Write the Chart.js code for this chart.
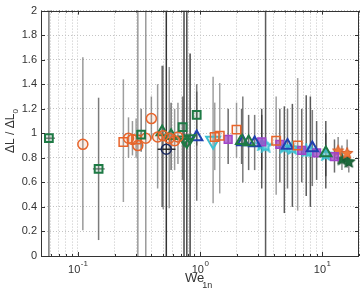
<!DOCTYPE html>
<html>
<head>
<meta charset="utf-8">
<script src="https://cdn.jsdelivr.net/npm/chart.js@4.4.0/dist/chart.umd.min.js"></script>
<style>
  html, body { margin: 0; padding: 0; background: #fff; }
  #wrap { width: 360px; height: 289px; }
</style>
</head>
<body>
<div id="wrap"><canvas id="chart"></canvas></div>
<script>
// --- axis data ---
const xGridValues = [0.05, 0.06, 0.07, 0.08, 0.09, 0.1, 0.2, 0.3, 0.4, 0.5, 0.6, 0.7, 0.8, 0.9,
                     1, 2, 3, 4, 5, 6, 7, 8, 9, 10, 20];
const xLabelValues = [0.1, 1, 10];
const xLabelExp = ['-1', '0', '1'];

// --- series (x = We_1n, y = dL/dL0, lo/hi = error bar ends) ---
const greenSqX  = [0.058, 0.148, 0.33, 0.72, 0.94];
const greenSqY  = [0.96, 0.71, 0.99, 1.05, 1.15];
const greenSqLo = [0, 0.13, 0.85, 0.62, 0.9];
const greenSqHi = [2, 1.29, 1.2, 1.3, 1.4];
const greenSqXLo = [0.053, 0.133, null, null, null];
const greenSqXHi = [0.065, 0.166, null, null, null];

const orangeCircX  = [0.11, 0.26, 0.28, 0.31, 0.36, 0.40, 0.45, 0.50, 0.56, 0.62, 0.66];
const orangeCircY  = [0.91, 0.96, 0.95, 0.90, 0.96, 1.12, 0.97, 0.98, 0.96, 0.94, 0.97];
const orangeCircLo = [0.21, 0.8, 0.82, 0, 0, 0.95, 0.55, 0.38, 0.39, 0.7, 0.75];
const orangeCircHi = [1.62, 1.13, 1.1, 2, 2, 1.3, 1.4, 1.55, 1.54, 1.2, 1.25];

const orangeSqX  = [0.236, 0.30, 1.32, 1.45, 1.99, 4.2, 6.3];
const orangeSqY  = [0.93, 0.95, 0.97, 0.98, 1.03, 0.94, 0.90];
const orangeSqLo = [0.44, 0.8, 0.7, 0.51, 0.8, 0.5, 0.37];
const orangeSqHi = [1.44, 1.12, 1.25, 1.41, 1.25, 1.3, 1.45];

const navyCircX  = [0.53];
const navyCircY  = [0.87];
const navyCircLo = [0];
const navyCircHi = [2];
const navyCircXLo = [0.45];
const navyCircXHi = [0.63];

const greenTriX  = [0.49, 0.58, 2.19, 2.5, 10.7];
const greenTriY  = [1.01, 0.98, 0.94, 0.93, 0.84];
const greenTriLo = [0.4, 0.7, 0.75, 0.7, 0.65];
const greenTriHi = [1.55, 1.25, 1.2, 1.15, 1.0];

const greenDownX  = [0.74, 0.78, 0.83];
const greenDownY  = [0.95, 0.93, 0.96];
const greenDownLo = [0, 0, 0];
const greenDownHi = [2, 2, 1.65];

const blueTriX  = [0.94, 2.24, 2.8, 5.2, 8.3];
const blueTriY  = [0.97, 0.93, 0.92, 0.90, 0.88];
const blueTriLo = [0.45, 0.6, 0.7, 0.55, 0.57];
const blueTriHi = [1.34, 1.3, 1.15, 1.2, 1.19];

const cyanDownX  = [1.28];
const cyanDownY  = [0.94];
const cyanDownLo = [0.43];
const cyanDownHi = [1.46];

const magentaSqX  = [1.7, 3.2, 4.5, 6.8, 9.0, 12.6];
const magentaSqY  = [0.95, 0.93, 0.91, 0.86, 0.84, 0.81];
const magentaSqLo = [0.75, 0.7, 0.6, 0.6, 0.62, 0.68];
const magentaSqHi = [1.2, 1.15, 1.2, 1.2, 1.1, 0.95];

const cyanStarX  = [3.2, 3.44, 4.9, 5.7, 7.4, 8.0, 10.7];
const cyanStarY  = [0.91, 0.90, 0.89, 0.88, 0.86, 0.86, 0.83];
const cyanStarLo = [0.55, 0, 0.35, 0.4, 0.49, 0.4, 0.55];
const cyanStarHi = [1.2, 2, 1.22, 1.24, 1.31, 1.3, 1.1];

const orangeStarX  = [13.5, 16.0];
const orangeStarY  = [0.86, 0.84];
const orangeStarLo = [0.75, 0.72];
const orangeStarHi = [0.97, 0.95];

const greenStarX  = [14.5, 16.5];
const greenStarY  = [0.79, 0.77];
const greenStarLo = [0.7, 0.68];
const greenStarHi = [0.9, 0.86];

// --- helpers ---
function starImg(size, fill, stroke, lw) {
    const c = document.createElement('canvas');
    c.width = c.height = size;
    const g = c.getContext('2d');
    const cx = size / 2, cy = size / 2 + 0.5, r = size / 2 - 1, r2 = r * 0.45;
    g.beginPath();
    for (let k = 0; k < 10; k++) {
        const a = -Math.PI / 2 + k * Math.PI / 5;
        const rr = k % 2 ? r2 : r;
        g.lineTo(cx + rr * Math.cos(a), cy + rr * Math.sin(a));
    }
    g.closePath();
    g.fillStyle = fill;
    g.fill();
    g.strokeStyle = stroke;
    g.lineWidth = lw;
    g.stroke();
    return c;
}

function series(label, xs, ys, lo, hi, style) {
    return Object.assign({
        label,
        data: xs.map((v, i) => ({ x: v, y: ys[i] })),
        lo, hi,
        borderWidth: 1.5,
        errColor: 'rgba(70,70,70,0.75)'
    }, style);
}

const ORANGE = '#e8642a', GREEN = '#1e7a45', BLUE = '#2040b0', NAVY = '#1c2a60',
      MAGENTA = '#a045c8', CYAN = '#3cc0d2';

const datasets = [
    series('green squares', greenSqX, greenSqY, greenSqLo, greenSqHi, {
        xLo: greenSqXLo, xHi: greenSqXHi, pointStyle: 'rect', pointRadius: 5.5,
        borderColor: GREEN, backgroundColor: 'rgba(30,122,69,0.15)', borderWidth: 2,
        errColor: 'rgba(90,90,90,0.8)'
    }),
    series('orange circles', orangeCircX, orangeCircY, orangeCircLo, orangeCircHi, {
        pointStyle: 'circle', pointRadius: 5, borderColor: ORANGE,
        backgroundColor: 'rgba(232,106,44,0.12)', errColor: 'rgba(110,110,110,0.7)'
    }),
    series('orange squares', orangeSqX, orangeSqY, orangeSqLo, orangeSqHi, {
        pointStyle: 'rect', pointRadius: 6, borderColor: ORANGE,
        backgroundColor: 'rgba(232,106,44,0.08)', errColor: 'rgba(120,120,120,0.7)'
    }),
    series('navy circles', navyCircX, navyCircY, navyCircLo, navyCircHi, {
        xLo: navyCircXLo, xHi: navyCircXHi, pointStyle: 'circle', pointRadius: 5,
        borderColor: NAVY, backgroundColor: 'rgba(0,0,0,0)', errColor: 'rgba(30,30,30,0.9)'
    }),
    series('green triangles', greenTriX, greenTriY, greenTriLo, greenTriHi, {
        pointStyle: 'triangle', pointRadius: 6.5, borderColor: GREEN, borderWidth: 2,
        backgroundColor: 'rgba(30,122,69,0.1)', errColor: 'rgba(60,60,60,0.75)'
    }),
    series('green down triangles', greenDownX, greenDownY, greenDownLo, greenDownHi, {
        pointStyle: 'triangle', rotation: 180, pointRadius: 6, borderColor: GREEN, borderWidth: 2,
        backgroundColor: 'rgba(30,122,69,0.1)', errColor: 'rgba(40,40,40,0.85)'
    }),
    series('blue triangles', blueTriX, blueTriY, blueTriLo, blueTriHi, {
        pointStyle: 'triangle', pointRadius: 6.5, borderColor: BLUE, borderWidth: 2,
        backgroundColor: 'rgba(32,64,176,0.08)', errColor: 'rgba(80,80,80,0.75)'
    }),
    series('cyan down triangle', cyanDownX, cyanDownY, cyanDownLo, cyanDownHi, {
        pointStyle: 'triangle', rotation: 180, pointRadius: 8, borderColor: CYAN, borderWidth: 2,
        backgroundColor: 'rgba(60,192,210,0.08)', errColor: 'rgba(120,120,120,0.7)'
    }),
    series('magenta squares', magentaSqX, magentaSqY, magentaSqLo, magentaSqHi, {
        pointStyle: 'rect', pointRadius: 5.5, borderColor: MAGENTA,
        backgroundColor: 'rgba(160,69,200,0.75)', errColor: 'rgba(70,70,70,0.8)'
    }),
    series('cyan stars', cyanStarX, cyanStarY, cyanStarLo, cyanStarHi, {
        pointStyle: starImg(14, 'rgba(160,230,240,0.7)', CYAN, 2), errColor: 'rgba(50,50,50,0.8)'
    }),
    series('orange stars', orangeStarX, orangeStarY, orangeStarLo, orangeStarHi, {
        pointStyle: starImg(14, '#f07a3a', '#d8602a', 1), errColor: 'rgba(90,90,90,0.7)'
    }),
    series('green stars', greenStarX, greenStarY, greenStarLo, greenStarHi, {
        pointStyle: starImg(15, '#1d6b3c', '#155530', 1), errColor: 'rgba(90,90,90,0.7)'
    })
];

// --- plugins ---
const errorBars = {
    id: 'errorBars',
    beforeDatasetsDraw(chart) {
        const { ctx, scales: { x, y } } = chart;
        ctx.save();
        chart.data.datasets.forEach(ds => {
            ctx.strokeStyle = ds.errColor;
            ctx.lineWidth = 1.5;
            ds.data.forEach((p, i) => {
                const px = x.getPixelForValue(p.x);
                ctx.beginPath();
                ctx.moveTo(px, y.getPixelForValue(ds.lo[i]));
                ctx.lineTo(px, y.getPixelForValue(ds.hi[i]));
                ctx.stroke();
                if (ds.xLo && ds.xLo[i] != null) {
                    const py = y.getPixelForValue(p.y);
                    ctx.beginPath();
                    ctx.moveTo(x.getPixelForValue(ds.xLo[i]), py);
                    ctx.lineTo(x.getPixelForValue(ds.xHi[i]), py);
                    ctx.stroke();
                }
            });
        });
        ctx.restore();
    }
};

const frameAndLabels = {
    id: 'frameAndLabels',
    afterDraw(chart) {
        const { ctx, chartArea: a, scales: { x, y } } = chart;
        ctx.save();
        // inward ticks
        ctx.strokeStyle = '#333';
        ctx.lineWidth = 1;
        ctx.beginPath();
        xGridValues.forEach(v => {
            const px = Math.round(x.getPixelForValue(v)) + 0.5;
            const len = xLabelValues.includes(v) ? 4 : 2;
            ctx.moveTo(px, a.bottom); ctx.lineTo(px, a.bottom - len);
            ctx.moveTo(px, a.top); ctx.lineTo(px, a.top + len);
        });
        y.ticks.forEach(t => {
            const py = Math.round(y.getPixelForValue(t.value)) + 0.5;
            ctx.moveTo(a.left, py); ctx.lineTo(a.left + 4, py);
            ctx.moveTo(a.right, py); ctx.lineTo(a.right - 4, py);
        });
        ctx.stroke();
        // frame
        ctx.strokeRect(Math.round(a.left) + 0.5, Math.round(a.top) + 0.5,
                       Math.round(a.right - a.left) - 1, Math.round(a.bottom - a.top));

        // x tick labels with exponents
        ctx.fillStyle = '#333';
        ctx.textBaseline = 'alphabetic';
        xLabelValues.forEach((v, i) => {
            const px = x.getPixelForValue(v);
            ctx.font = '11px "Liberation Sans", Arial, sans-serif';
            const wb = ctx.measureText('10').width;
            ctx.font = '8px "Liberation Sans", Arial, sans-serif';
            const we = ctx.measureText(xLabelExp[i]).width;
            const left = px - (wb + we) / 2;
            ctx.font = '11px "Liberation Sans", Arial, sans-serif';
            ctx.textAlign = 'left';
            ctx.fillText('10', left, 273);
            ctx.font = '8px "Liberation Sans", Arial, sans-serif';
            ctx.fillText(xLabelExp[i], left + wb + 0.5, 266);
        });

        // x title
        ctx.font = '13px "Liberation Sans", Arial, sans-serif';
        ctx.textAlign = 'left';
        ctx.fillText('We', 185, 282);
        const wWe = ctx.measureText('We').width;
        ctx.font = '9px "Liberation Sans", Arial, sans-serif';
        ctx.fillText('1n', 185 + wWe - 2, 288);

        // y title
        ctx.translate(14, 131);
        ctx.rotate(-Math.PI / 2);
        ctx.font = '12px "Liberation Sans", Arial, sans-serif';
        const main = '\u0394L / \u0394L';
        const wm = ctx.measureText(main).width;
        ctx.font = '8px "Liberation Sans", Arial, sans-serif';
        const ws = ctx.measureText('0').width;
        const start = -(wm + ws) / 2;
        ctx.font = '12px "Liberation Sans", Arial, sans-serif';
        ctx.fillText(main, start, 0);
        ctx.font = '8px "Liberation Sans", Arial, sans-serif';
        ctx.fillText('0', start + wm, 4);
        ctx.restore();
    }
};

new Chart(document.getElementById('chart'), {
    type: 'scatter',
    data: { datasets },
    options: {
        responsive: true,
        maintainAspectRatio: false,
        animation: false,
        layout: { autoPadding: false, padding: { top: 6, right: 1, left: 0, bottom: 0 } },
        plugins: { legend: { display: false }, tooltip: { enabled: false } },
        scales: {
            x: {
                type: 'logarithmic',
                min: 0.05,
                max: 20,
                afterBuildTicks: s => { s.ticks = xGridValues.map(v => ({ value: v })); },
                afterFit: s => { s.height = 33; },
                ticks: { display: false },
                grid: { color: '#c4c4c4', drawTicks: false, lineWidth: 1 },
                border: { display: false, dash: [1, 2] }
            },
            y: {
                min: 0,
                max: 2,
                afterFit: s => { s.width = 41; },
                ticks: {
                    stepSize: 0.2,
                    padding: 4,
                    color: '#333',
                    callback: v => String(+v.toFixed(1)),
                    font: { family: '"Liberation Sans", Arial, sans-serif', size: 11 }
                },
                grid: { color: '#c4c4c4', drawTicks: false, lineWidth: 1 },
                border: { display: false, dash: [1, 2] }
            }
        }
    },
    plugins: [errorBars, frameAndLabels]
});
</script>
</body>
</html>
